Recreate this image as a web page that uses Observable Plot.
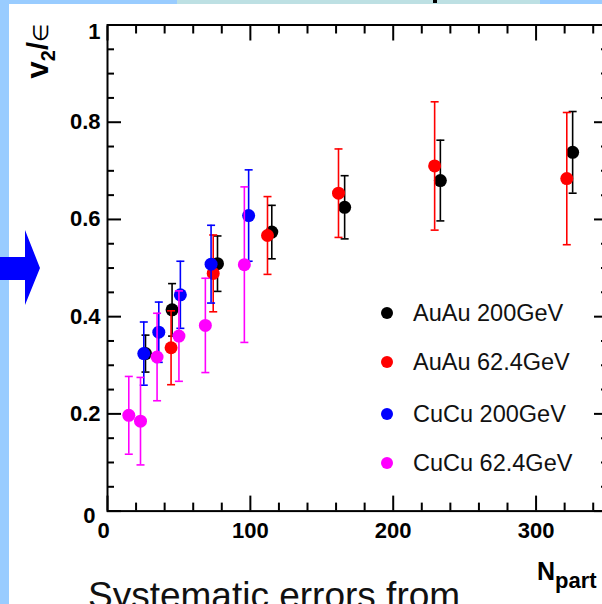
<!DOCTYPE html>
<html><head><meta charset="utf-8">
<script src="https://cdn.jsdelivr.net/npm/d3@7"></script>
<script src="https://cdn.jsdelivr.net/npm/@observablehq/plot@0.6"></script>
<style>
body{margin:0;background:#fff;}
#wrap{position:relative;width:602px;height:604px;overflow:hidden;background:#fff;font-family:"Liberation Sans",Arial,sans-serif;}
.abs{position:absolute;}
.bg{position:absolute;background:#99ccff;}
.leg{position:absolute;left:378px;height:30px;display:flex;align-items:center;font-size:23.5px;color:#111;white-space:nowrap;}
.leg i{display:inline-block;width:12px;height:12px;border-radius:50%;margin-left:3px;margin-right:20px;}
</style></head><body>
<div id="wrap">
  <div class="bg" style="left:0;top:0;width:9px;height:604px"></div>
  <div class="bg" style="left:0;top:0;width:602px;height:4px"></div>
  <div class="abs" style="left:177px;top:0;width:363px;height:4px;background:#bde0e3"></div>
  <div class="abs" style="left:433px;top:0;width:4px;height:3px;background:#000"></div>
  <div id="plot" class="abs" style="left:0;top:0"></div>
  <svg class="abs" style="left:0;top:0" width="602" height="604">
    <polygon points="0,257 25,257 25,230 40,268 25,305 25,280 0,280" fill="#0000ff"/>
    <text transform="translate(48,24) rotate(-90)" text-anchor="end" font-family="Liberation Sans, Arial" fill="#000">
      <tspan font-size="31" font-weight="bold">v</tspan><tspan font-size="20" font-weight="bold" dy="7">2</tspan><tspan font-size="29" font-weight="bold" dy="-7">/</tspan><tspan font-size="21">∈</tspan>
    </text>
  </svg>
  <div id="legend"></div>
  <div class="abs" style="left:537px;top:559px;font-weight:bold;font-size:25px;line-height:25px;white-space:nowrap;">N<span style="font-size:22px;position:relative;top:8px;">part</span></div>
  <div class="abs" style="left:88px;top:577px;font-size:37px;line-height:37px;white-space:nowrap;color:#111;">Systematic errors from</div>
</div>
<script>
// Tick values
const xMajor = [0, 100, 200, 300];
const xMinor = [20, 40, 60, 80, 120, 140, 160, 180, 220, 240, 260, 280, 320, 340];
const yMajor = [0, 0.2, 0.4, 0.6, 0.8, 1];
const yMinor = [0.05, 0.1, 0.15, 0.25, 0.3, 0.35, 0.45, 0.5, 0.55, 0.65, 0.7, 0.75, 0.85, 0.9, 0.95];

// Series names and colors
const seriesNames = ["AuAu 200GeV", "AuAu 62.4GeV", "CuCu 200GeV", "CuCu 62.4GeV"];
const seriesColors = ["#000000", "#ff0000", "#0000ff", "#ff00ff"];

// AuAu 200GeV
const auau200Npart = [26.6, 45.2, 77, 115, 166, 233, 325.6];
const auau200V2 = [0.324, 0.414, 0.509, 0.574, 0.625, 0.680, 0.738];
const auau200Err = [0.038, 0.054, 0.057, 0.055, 0.065, 0.083, 0.084];
// AuAu 62.4GeV
const auau62Npart = [44.5, 74.0, 112, 161.7, 229, 321.5];
const auau62V2 = [0.336, 0.489, 0.567, 0.654, 0.710, 0.684];
const auau62Err = [0.076, 0.079, 0.080, 0.091, 0.132, 0.136];
// CuCu 200GeV
const cucu200Npart = [25.4, 35.9, 51, 72.5, 98.8];
const cucu200V2 = [0.324, 0.368, 0.445, 0.508, 0.608];
const cucu200Err = [0.065, 0.062, 0.069, 0.080, 0.094];
// CuCu 62.4GeV
const cucu62Npart = [14.9, 23.1, 34.7, 50, 68.5, 95.8];
const cucu62V2 = [0.197, 0.185, 0.317, 0.360, 0.382, 0.507];
const cucu62Err = [0.080, 0.090, 0.090, 0.093, 0.097, 0.160];

const seriesData = [
  [auau200Npart, auau200V2, auau200Err],
  [auau62Npart, auau62V2, auau62Err],
  [cucu200Npart, cucu200V2, cucu200Err],
  [cucu62Npart, cucu62V2, cucu62Err]
];
const groups = seriesData.map(([xs, ys, es], k) =>
  xs.map((x, i) => ({series: seriesNames[k], x, y: ys[i], e: es[i]})));

const capSymbol = {draw(ctx, size) { const h = Math.sqrt(size / Math.PI); ctx.moveTo(-h, 0); ctx.lineTo(h, 0); }};

const fmt = d => String(+(+d).toFixed(1));
const seriesMarks = groups.flatMap(rows => [
  Plot.ruleX(rows, {x: "x", y1: d => d.y - d.e, y2: d => d.y + d.e, stroke: "series", strokeWidth: 1.6}),
  Plot.dot(rows, {x: "x", y: d => d.y + d.e, symbol: capSymbol, r: 4, fill: "none", stroke: "series", strokeWidth: 1.6}),
  Plot.dot(rows, {x: "x", y: d => d.y - d.e, symbol: capSymbol, r: 4, fill: "none", stroke: "series", strokeWidth: 1.6}),
  Plot.dot(rows, {x: "x", y: "y", r: 6.5, fill: "series", stroke: null})
]);

const labelOpts = {tickSize: 0, tickFormat: fmt, label: null, fontSize: 22};
const chart = Plot.plot({
  width: 602, height: 604,
  marginLeft: 107, marginRight: -5, marginTop: 24.5, marginBottom: 93.4,
  x: {domain: [0, 350]},
  y: {domain: [0, 1]},
  color: {domain: seriesNames, range: seriesColors},
  style: {background: "transparent", fontFamily: "Liberation Sans, Arial, sans-serif", fontSize: "22px", fontWeight: "bold", color: "#000", overflow: "visible"},
  marks: [
    ...seriesMarks,
    Plot.frame({stroke: "#000", strokeWidth: 2}),
    Plot.axisX(xMajor, {anchor: "bottom", tickSize: -15, tickFormat: () => "", label: null, strokeWidth: 2}),
    Plot.axisX(xMinor, {anchor: "bottom", tickSize: -8, tickFormat: () => "", label: null, strokeWidth: 2}),
    Plot.axisX(xMajor, {anchor: "top", tickSize: -15, tickFormat: () => "", label: null, strokeWidth: 2}),
    Plot.axisX(xMinor, {anchor: "top", tickSize: -8, tickFormat: () => "", label: null, strokeWidth: 2}),
    Plot.axisY(yMajor, {anchor: "left", tickSize: -14, tickFormat: () => "", label: null, strokeWidth: 2}),
    Plot.axisY(yMinor, {anchor: "left", tickSize: -7, tickFormat: () => "", label: null, strokeWidth: 2}),
    Plot.axisY(yMajor, {anchor: "right", tickSize: -14, tickFormat: () => "", label: null, strokeWidth: 2}),
    Plot.axisY(yMinor, {anchor: "right", tickSize: -7, tickFormat: () => "", label: null, strokeWidth: 2}),
    Plot.axisX(xMajor.slice(1), {...labelOpts, anchor: "bottom", tickPadding: 11}),
    Plot.axisX([0], {...labelOpts, anchor: "bottom", tickPadding: 11, dx: -4}),
    Plot.axisY([0.2, 0.4, 0.6, 0.8], {...labelOpts, anchor: "left", tickPadding: 7}),
    Plot.axisY([1], {...labelOpts, anchor: "left", tickPadding: 7, dy: 7}),
    Plot.axisY([0], {...labelOpts, anchor: "left", tickPadding: 7, dx: -5, dy: 5})
  ]
});
document.getElementById("plot").appendChild(chart);

// Legend (HTML)
const legTops = [298, 347, 399, 448];
const legend = document.getElementById("legend");
seriesNames.forEach((name, i) => {
  const div = document.createElement("div");
  div.className = "leg";
  div.style.top = legTops[i] + "px";
  div.innerHTML = `<i style="background:${seriesColors[i]}"></i>${name}`;
  legend.appendChild(div);
});
</script>
</body></html>
